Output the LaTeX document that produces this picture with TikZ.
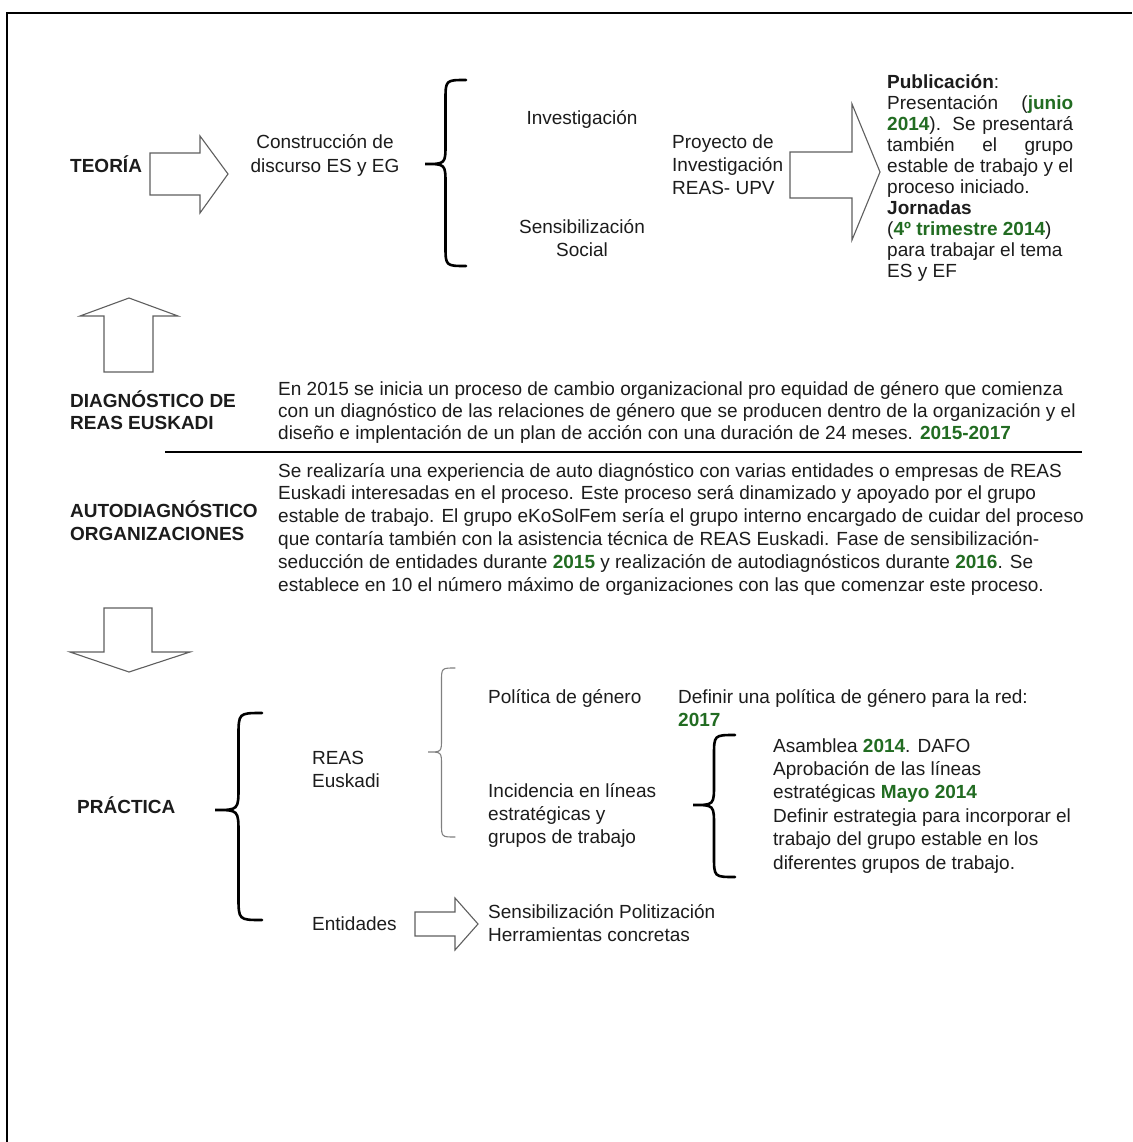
\documentclass[tikz,border=0pt]{standalone}
\usepackage{fontspec}
\setmainfont{Liberation Sans}
\definecolor{grn}{RGB}{34,108,34}
\definecolor{txt}{RGB}{28,28,28}
\definecolor{arr}{RGB}{95,95,95}
\newcommand{\gb}[1]{\textbf{\textcolor{grn}{#1}}}
\newcommand{\fs}[1]{\fontsize{19}{#1}\selectfont}
\newcommand{\Lcol}[1]{\begin{tabular}[t]{@{}l@{}}#1\end{tabular}}
\newcommand{\Ccol}[1]{\begin{tabular}[t]{@{}c@{}}#1\end{tabular}}
% left-facing curly brace: [style]{x ends}{x tip}{y top}{y tip}{y bottom}
\newcommand{\leftbr}[6][]{%
  \draw[#1] (#2,#4) .. controls ({(#2+#3)/2},#4) .. ({(#2+#3)/2},{#4+(#2-#3)/2})
    -- ({(#2+#3)/2},{#5-(#2-#3)/2}) .. controls ({(#2+#3)/2},#5) .. (#3,#5)
    .. controls ({(#2+#3)/2},#5) .. ({(#2+#3)/2},{#5+(#2-#3)/2})
    -- ({(#2+#3)/2},{#6-(#2-#3)/2}) .. controls ({(#2+#3)/2},#6) .. (#2,#6);}
\begin{document}
\begin{tikzpicture}[x=1pt,y=-1pt,
  lbl/.style={inner sep=0pt, anchor=base west, text=txt, font=\fs{22.5}},
  clbl/.style={lbl, anchor=base},
  hd/.style={lbl, font=\fs{22.5}\bfseries},
  blockarrow/.style={draw=arr, line width=1.1pt, fill=white, line join=miter},
  bigbrace/.style={draw=black, line width=2.6pt, line cap=round},
  thinbrace/.style={draw=gray, line width=1.1pt, line cap=round}]
\useasboundingbox (0,0) rectangle (1132,1142);
\fill[white] (0,0) rectangle (1132,1142);
\draw[line width=1.5pt] (7,1142) -- (7,13) -- (1132,13);

% ---------- TEORIA ----------
\node[hd] (teoria) at (70,173) {TEORÍA};
\draw[blockarrow] (150,153) -- (200,153) -- (200,136) -- (228,174) -- (200,213) -- (200,195) -- (150,195) -- cycle;
\node[clbl, font=\fs{23.5}] (constr) at (325,149) {\Ccol{Construcción de\\discurso ES y EG}};
\leftbr[bigbrace]{466}{425}{80}{164}{266}
\node[clbl] (invest) at (582,125) {Investigación};
\node[clbl, font=\fs{23}] (sensib) at (582,233) {\Ccol{Sensibilización\\Social}};
\node[lbl, font=\fs{23}] (proy) at (672,149) {\Lcol{Proyecto de\\Investigación\\REAS- UPV}};
\draw[blockarrow] (790,152) -- (852,152) -- (852,104) -- (880,172) -- (852,240) -- (852,198) -- (790,198) -- cycle;
\node[lbl, font=\fs{21}] (pub) at (887,89) {\Lcol{%
  \textbf{Publicación}:\\
  \makebox[186pt][s]{Presentación (\gb{junio}}\\
  \makebox[186pt][s]{\gb{2014}). Se presentará}\\
  \makebox[186pt][s]{también el grupo}\\
  \makebox[186pt][s]{estable de trabajo y el}\\
  proceso iniciado.\\
  \textbf{Jornadas}\\
  (\gb{4º trimestre 2014})\\
  para trabajar el tema\\
  ES y EF}};

% ---------- up arrow ----------
\draw[blockarrow] (104,372) -- (104,316) -- (80,316) -- (129,298) -- (178,316) -- (153,316) -- (153,372) -- cycle;

% ---------- DIAGNOSTICO ----------
\node[hd, font=\fs{22}\bfseries] (diag) at (70,407) {\Lcol{DIAGNÓSTICO DE\\REAS EUSKADI}};
\node[lbl, font=\fs{22}] (para1) at (278,395) {\Lcol{%
  En 2015 se inicia un proceso de cambio organizacional pro equidad de género que comienza\\
  con un diagnóstico de las relaciones de género que se producen dentro de la organización y el\\
  diseño e implentación de un plan de acción con una duración de 24 meses. \gb{2015-2017}}};
\coordinate (ruleL) at (165,452);
\coordinate (ruleR) at (1082,452);
\draw[line width=1.4pt] (ruleL) -- (ruleR);

% ---------- AUTODIAGNOSTICO ----------
\node[hd, font=\fs{23}\bfseries] (auto) at (70,517) {\Lcol{AUTODIAGNÓSTICO\\ORGANIZACIONES}};
\node[lbl, font=\fs{22.8}] (para2) at (278,477) {\Lcol{%
  Se realizaría una experiencia de auto diagnóstico con varias entidades o empresas de REAS\\
  Euskadi interesadas en el proceso. Este proceso será dinamizado y apoyado por el grupo\\
  estable de trabajo. El grupo eKoSolFem sería el grupo interno encargado de cuidar del proceso\\
  que contaría también con la asistencia técnica de REAS Euskadi. Fase de sensibilización-\\
  seducción de entidades durante \gb{2015} y realización de autodiagnósticos durante \gb{2016}. Se\\
  establece en 10 el número máximo de organizaciones con las que comenzar este proceso.}};

% ---------- down arrow ----------
\draw[blockarrow] (104,608) -- (152,608) -- (152,652) -- (190,652) -- (129,672) -- (70,652) -- (104,652) -- cycle;

% ---------- PRACTICA ----------
\node[hd] (pract) at (77,813) {PRÁCTICA};
\leftbr[bigbrace]{262}{215}{713}{810}{920}
\node[lbl, font=\fs{23}] (reas) at (312,764) {\Lcol{REAS\\Euskadi}};
\node[lbl] (entid) at (312,930) {Entidades};
\draw[blockarrow] (415,912) -- (455,912) -- (455,898) -- (478,924) -- (455,950) -- (455,936) -- (415,936) -- cycle;
\node[lbl, font=\fs{23}] (sens2) at (488,918) {\Lcol{Sensibilización Politización\\Herramientas concretas}};
\leftbr[thinbrace]{455}{428}{668}{752}{837}
\node[lbl] (polit) at (488,703) {Política de género};
\node[lbl, font=\fs{23}] (incid) at (488,797) {\Lcol{Incidencia en líneas\\estratégicas y\\grupos de trabajo}};
\node[lbl, font=\fs{23}] (defin) at (678,703) {\Lcol{Definir una política de género para la red:\\\gb{2017}}};
\leftbr[bigbrace]{735}{693}{735}{805}{877}
\node[lbl, font=\fs{23.4}] (asamb) at (773,752) {\Lcol{%
  Asamblea \gb{2014}. DAFO\\
  Aprobación de las líneas\\
  estratégicas \gb{Mayo 2014}\\
  Definir estrategia para incorporar el\\
  trabajo del grupo estable en los\\
  diferentes grupos de trabajo.}};
\end{tikzpicture}
\end{document}
